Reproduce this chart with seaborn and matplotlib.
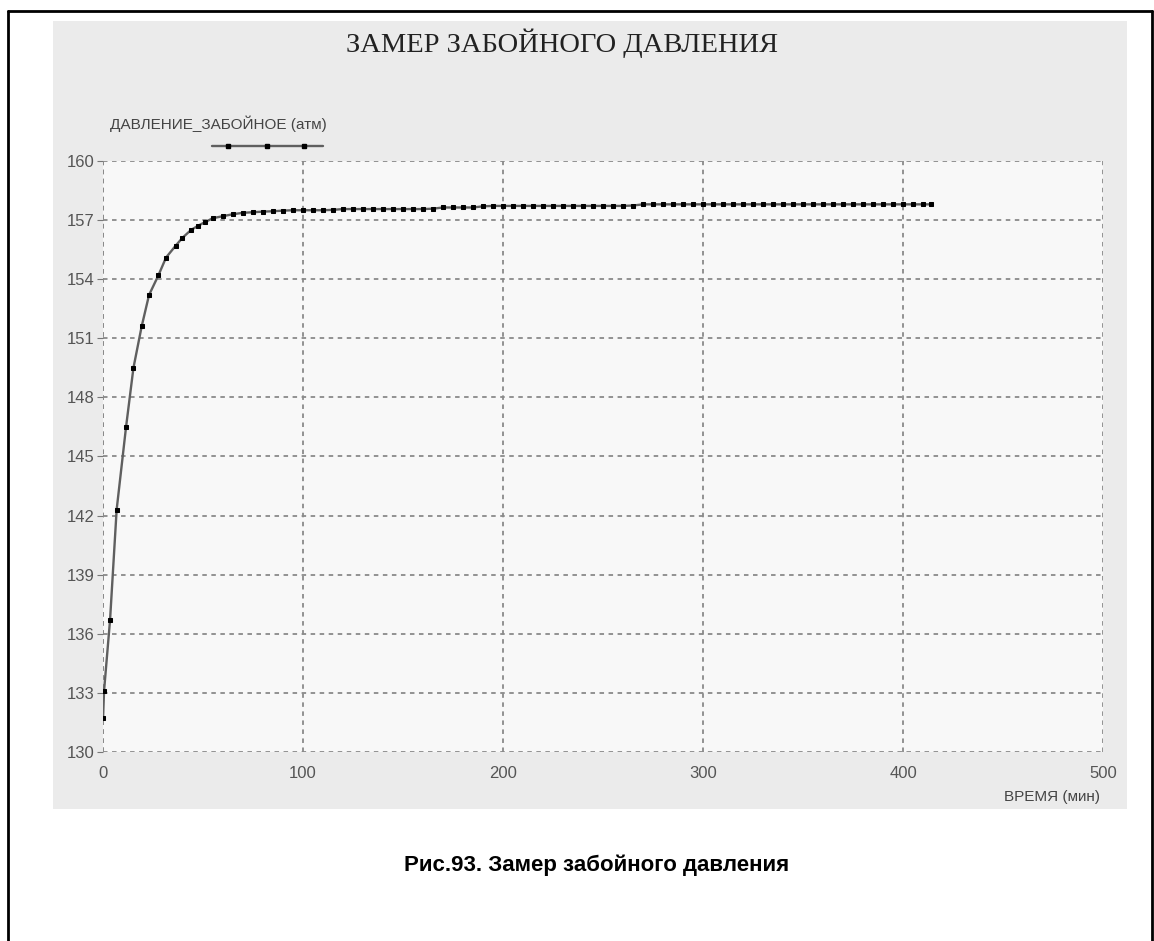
import pandas as pd
import seaborn as sns
import matplotlib.pyplot as plt
from matplotlib.patches import Rectangle
from matplotlib.lines import Line2D

# время (мин) и забойное давление (атм)
time_min = [0, 0.5, 3.5, 6.8, 11.5, 15.2, 19.3, 23, 27.7, 31.5, 36.3, 39.7, 44, 47.3,
            51, 55, 60, 65, 70, 75, 80, 85, 90, 95, 100, 105, 110, 115, 120, 125,
            130, 135, 140, 145, 150, 155, 160, 165, 170, 175, 180, 185, 190, 195,
            200, 205, 210, 215, 220, 225, 230, 235, 240, 245, 250, 255, 260, 265,
            270, 275, 280, 285, 290, 295, 300, 305, 310, 315, 320, 325, 330, 335,
            340, 345, 350, 355, 360, 365, 370, 375, 380, 385, 390, 395, 400, 405,
            410, 414]
pressure = [131.7, 133.1, 136.7, 142.3, 146.5, 149.5, 151.6, 153.2, 154.2, 155.1,
            155.7, 156.1, 156.5, 156.7, 156.9, 157.1, 157.2, 157.3, 157.37, 157.4,
            157.43, 157.45, 157.48, 157.5, 157.5, 157.5, 157.5, 157.52, 157.56, 157.56,
            157.56, 157.56, 157.56, 157.56, 157.56, 157.56, 157.56, 157.58, 157.64, 157.64,
            157.64, 157.64, 157.7, 157.72, 157.72, 157.72, 157.72, 157.72, 157.72, 157.72,
            157.72, 157.72, 157.72, 157.72, 157.72, 157.72, 157.72, 157.74, 157.8, 157.8,
            157.8, 157.8, 157.8, 157.8, 157.8, 157.8, 157.8, 157.8, 157.8, 157.8,
            157.8, 157.8, 157.8, 157.8, 157.8, 157.8, 157.8, 157.8, 157.8, 157.8,
            157.8, 157.8, 157.8, 157.8, 157.8, 157.8, 157.8, 157.8]

x_ticks = [0, 100, 200, 300, 400, 500]
y_ticks = [130, 133, 136, 139, 142, 145, 148, 151, 154, 157, 160]

df = pd.DataFrame({'Время': time_min, 'Давление': pressure})

sns.set_style('white')
plt.rcParams['font.family'] = ['DejaVu Sans']

fig = plt.figure(figsize=(11.54, 9.41), dpi=100)
fig.patch.set_facecolor('white')

# серая панель вокруг графика
fig.patches.append(Rectangle((0.0459, 0.1403), 0.9307, 0.8374, transform=fig.transFigure,
                             facecolor='#ebebeb', edgecolor='none', zorder=-5))
# рамка страницы
fig.add_artist(Line2D([0.007, 0.007], [0, 0.988], transform=fig.transFigure, color='black', lw=2))
fig.add_artist(Line2D([0.007, 0.998], [0.988, 0.988], transform=fig.transFigure, color='black', lw=2))
fig.add_artist(Line2D([0.998, 0.998], [0, 0.988], transform=fig.transFigure, color='black', lw=2))

ax = fig.add_axes([0.0893, 0.2009, 0.8665, 0.628])
ax.set_zorder(5)
ax.set_facecolor('#f8f8f8')
sns.lineplot(data=df, x='Время', y='Давление', ax=ax, color='#5f5f5f', lw=1.7,
             marker='s', markersize=2.3, markerfacecolor='black', markeredgecolor='black')

ax.set_xlim(0, 500)
ax.set_ylim(130, 160)
ax.set_xticks(x_ticks)
ax.set_yticks(y_ticks)
ax.set_xticklabels([str(t) for t in x_ticks], family='Liberation Sans', fontsize=12, color='#555555')
ax.set_yticklabels([str(t) for t in y_ticks], family='Liberation Sans', fontsize=12, color='#555555')
ax.tick_params(axis='y', length=4, color='#777777', pad=2, left=True)
ax.tick_params(axis='x', length=0, pad=10)
ax.grid(True, linestyle=(0, (2.5, 2.5)), color='#8a8a8a', lw=1.3)
ax.set_axisbelow(True)
for s in ax.spines.values():
    s.set_visible(False)
ax.axvline(0, linestyle=(0, (2.5, 2.5)), color='#8a8a8a', lw=1.3, zorder=1)
ax.set_xlabel('')
ax.set_ylabel('')

fig.text(0.487, 0.954, 'ЗАМЕР ЗАБОЙНОГО ДАВЛЕНИЯ', family='Liberation Serif',
         fontsize=20.5, ha='center', va='center', color='#222222')
fig.text(0.095, 0.869, 'ДАВЛЕНИЕ_ЗАБОЙНОЕ (атм)', family='Liberation Sans',
         fontsize=11, ha='left', va='center', color='#444444')
fig.add_artist(Line2D([0.184, 0.28], [0.845, 0.845], transform=fig.transFigure,
                      color='#5f5f5f', lw=1.7))
fig.add_artist(Line2D([0.198, 0.231, 0.263], [0.845, 0.845, 0.845], transform=fig.transFigure,
                      ls='none', marker='s', markersize=2.3, color='black'))
fig.text(0.953, 0.153, 'ВРЕМЯ (мин)', family='Liberation Sans',
         fontsize=11, ha='right', va='center', color='#444444')

fig.text(0.517, 0.08, 'Рис.93. Замер забойного давления', family='Liberation Sans',
         fontsize=16, fontweight='bold', ha='center', va='center', color='black')

fig.savefig('out.png', dpi=100)
